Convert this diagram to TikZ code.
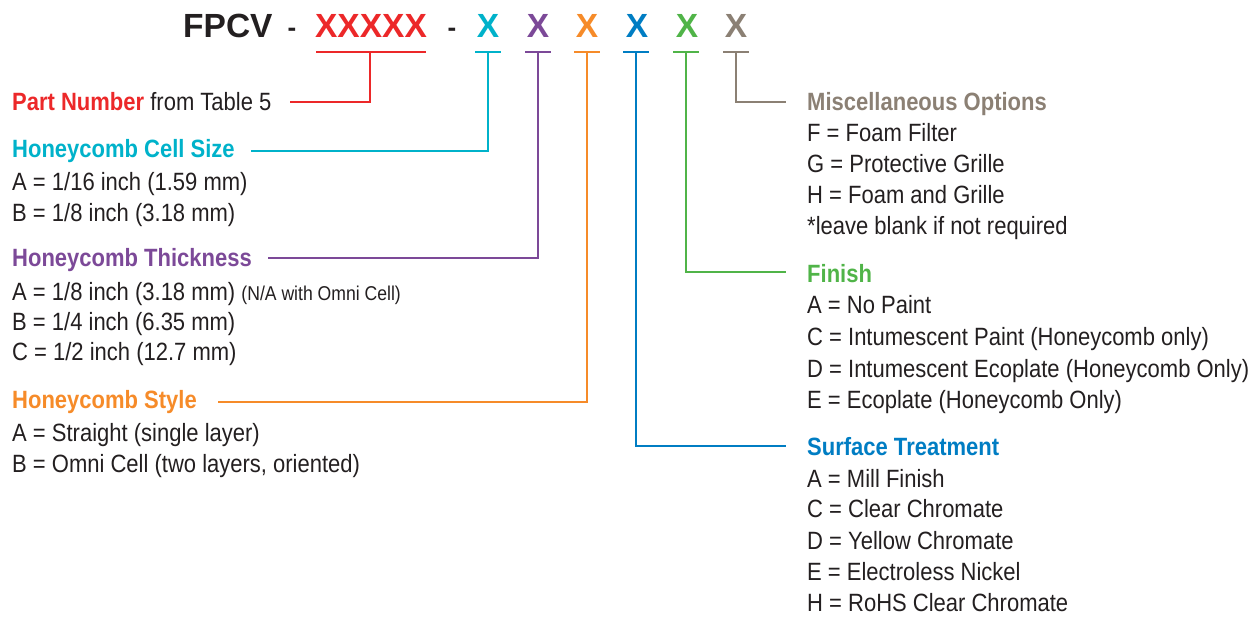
\documentclass[tikz,border=0pt]{standalone}
\usepackage{fontspec}
\setmainfont{Liberation Sans}[FakeStretch=0.88]
\newfontfamily\titlefont{Liberation Sans}
\definecolor{txt}{RGB}{35,31,32}
\definecolor{cred}{RGB}{236,40,41}
\definecolor{ccyan}{RGB}{0,178,202}
\definecolor{cpurple}{RGB}{124,73,152}
\definecolor{corange}{RGB}{246,139,41}
\definecolor{cblue}{RGB}{0,125,195}
\definecolor{cgreen}{RGB}{80,180,72}
\definecolor{cgray}{RGB}{139,128,116}
\begin{document}
\begin{tikzpicture}[x=1pt,y=-1pt,
  lbl/.style={anchor=base west,inner sep=0pt,font=\fontsize{25}{30}\selectfont,text=txt},
  hd/.style={anchor=base west,inner sep=0pt,font=\fontsize{25}{30}\selectfont\bfseries},
  ttl/.style={anchor=base,inner sep=0pt,font=\titlefont\fontsize{33.5}{40}\selectfont\bfseries},
  dsh/.style={anchor=base,inner sep=0pt,font=\titlefont\fontsize{26}{30}\selectfont\bfseries,text=txt},
  conn/.style={line width=2.5pt}]
\useasboundingbox (0,0) rectangle (1248,616);

% title row
\node[ttl,anchor=base west,text=txt] (fpcv) at (183,37) {FPCV};
\node[dsh] (d1) at (292,36) {-};
\node[ttl,text=cred] (pn) at (371,37) {XXXXX};
\node[dsh] (d2) at (452,36) {-};
\node[ttl,text=ccyan] (x1) at (488,37) {X};
\node[ttl,text=cpurple] (x2) at (538,37) {X};
\node[ttl,text=corange] (x3) at (587,37) {X};
\node[ttl,text=cblue] (x4) at (637,37) {X};
\node[ttl,text=cgreen] (x5) at (687,37) {X};
\node[ttl,text=cgray] (x6) at (736,37) {X};

% left labels
\node[hd,text=cred] (pnh) at (12,110) {Part Number {\mdseries\color{txt}from Table 5}};

\node[hd,text=ccyan] (csh) at (12,157) {Honeycomb Cell Size};
\node[lbl] (cs1) at (12,190) {A = 1/16 inch (1.59 mm)};
\node[lbl] (cs2) at (12,221) {B = 1/8 inch (3.18 mm)};

\node[hd,text=cpurple] (thh) at (12,266) {Honeycomb Thickness};
\node[lbl] (th1) at (12,300) {A = 1/8 inch (3.18 mm) {\fontsize{20}{22}\selectfont(N/A with Omni Cell)}};
\node[lbl] (th2) at (12,330) {B = 1/4 inch (6.35 mm)};
\node[lbl] (th3) at (12,360) {C = 1/2 inch (12.7 mm)};

\node[hd,text=corange] (sth) at (12,408) {Honeycomb Style};
\node[lbl] (st1) at (12,441) {A = Straight (single layer)};
\node[lbl] (st2) at (12,472) {B = Omni Cell (two layers, oriented)};

% right labels
\node[hd,text=cgray] (msh) at (807,110) {Miscellaneous Options};
\node[lbl] (ms1) at (807,141) {F = Foam Filter};
\node[lbl] (ms2) at (807,172) {G = Protective Grille};
\node[lbl] (ms3) at (807,203) {H = Foam and Grille};
\node[lbl] (ms4) at (807,234) {*leave blank if not required};

\node[hd,text=cgreen] (fnh) at (807,282) {Finish};
\node[lbl] (fn1) at (807,313) {A = No Paint};
\node[lbl] (fn2) at (807,345) {C = Intumescent Paint (Honeycomb only)};
\node[lbl] (fn3) at (807,377) {D = Intumescent Ecoplate (Honeycomb Only)};
\node[lbl] (fn4) at (807,408) {E = Ecoplate (Honeycomb Only)};

\node[hd,text=cblue] (sfh) at (807,455) {Surface Treatment};
\node[lbl] (sf1) at (807,487) {A = Mill Finish};
\node[lbl] (sf2) at (807,517) {C = Clear Chromate};
\node[lbl] (sf3) at (807,549) {D = Yellow Chromate};
\node[lbl] (sf4) at (807,580) {E = Electroless Nickel};
\node[lbl] (sf5) at (807,611) {H = RoHS Clear Chromate};

% connector coordinates
\coordinate (r0a) at (316,52); \coordinate (r0b) at (426,52); \coordinate (r0m) at (370,52);
\coordinate (r0e) at (290,102);
\coordinate (c1a) at (475,52); \coordinate (c1b) at (501,52); \coordinate (c1m) at (488,52);
\coordinate (c1e) at (251,151);
\coordinate (p2a) at (525,52); \coordinate (p2b) at (551,52); \coordinate (p2m) at (538,52);
\coordinate (p2e) at (268,258);
\coordinate (o3a) at (574,52); \coordinate (o3b) at (600,52); \coordinate (o3m) at (587,52);
\coordinate (o3e) at (218,402);
\coordinate (b4a) at (623,52); \coordinate (b4b) at (649,52); \coordinate (b4m) at (636,52);
\coordinate (b4e) at (786,446);
\coordinate (g5a) at (673,52); \coordinate (g5b) at (699,52); \coordinate (g5m) at (686,52);
\coordinate (g5e) at (786,272);
\coordinate (y6a) at (723,52); \coordinate (y6b) at (749,52); \coordinate (y6m) at (736,52);
\coordinate (y6e) at (786,102);

\draw[conn,cred] (r0a) -- (r0b) (r0m) -- (r0m |- r0e) -- (r0e);
\draw[conn,ccyan] (c1a) -- (c1b) (c1m) -- (c1m |- c1e) -- (c1e);
\draw[conn,cpurple] (p2a) -- (p2b) (p2m) -- (p2m |- p2e) -- (p2e);
\draw[conn,corange] (o3a) -- (o3b) (o3m) -- (o3m |- o3e) -- (o3e);
\draw[conn,cblue] (b4a) -- (b4b) (b4m) -- (b4m |- b4e) -- (b4e);
\draw[conn,cgreen] (g5a) -- (g5b) (g5m) -- (g5m |- g5e) -- (g5e);
\draw[conn,cgray] (y6a) -- (y6b) (y6m) -- (y6m |- y6e) -- (y6e);
\end{tikzpicture}
\end{document}
